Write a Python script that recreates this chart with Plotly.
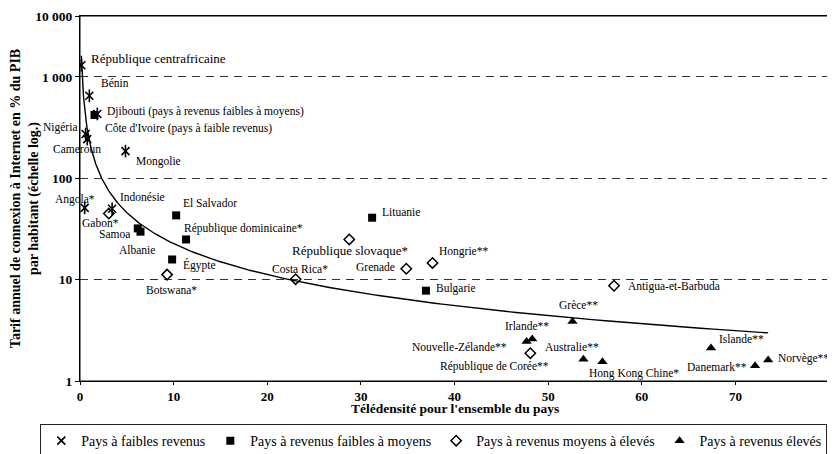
import numpy as np
import plotly.graph_objects as go

# ---------------- data ----------------
low_names = ["République centrafricaine", "Bénin", "Côte d'Ivoire (pays à faible revenus)",
             "Nigéria", "Cameroun", "Mongolie", "Angola*", "Indonésie"]
low_x = [0.15, 1.0, 1.85, 0.6, 0.77, 4.86, 0.5, 3.43]
low_y = [1300, 650, 430, 273, 243, 185, 51, 50]

lowmid_names = ["Djibouti (pays à revenus faibles à moyens)", "El Salvador", "Samoa", "Albanie",
                "République dominicaine*", "Égypte", "Lituanie", "Bulgarie"]
lowmid_x = [1.55, 10.27, 6.17, 6.46, 11.33, 9.84, 31.2, 36.95]
lowmid_y = [421, 43, 32, 29.7, 24.9, 15.8, 40.8, 7.78]

midhigh_names = ["Gabon*", "Botswana*", "Costa Rica*", "République slovaque*", "Grenade",
                 "Hongrie**", "République de Corée**", "Antigua-et-Barbuda"]
midhigh_x = [3.08, 9.3, 23.03, 28.76, 34.85, 37.65, 48.1, 57.04]
midhigh_y = [44.8, 11.2, 10.1, 24.9, 12.8, 14.6, 1.88, 8.7]

high_names = ["Irlande**", "Nouvelle-Zélande**", "Grèce**", "Australie**", "Hong Kong Chine*",
              "Islande**", "Danemark**", "Norvège**"]
high_x = [48.3, 47.7, 52.6, 53.77, 55.8, 67.4, 72.1, 73.5]
high_y = [2.59, 2.45, 3.87, 1.64, 1.55, 2.11, 1.41, 1.61]

legend_labels = ["Pays à faibles revenus", "Pays à revenus faibles à moyens",
                 "Pays à revenus moyens à élevés", "Pays à revenus élevés"]

x_ticks = [0, 10, 20, 30, 40, 50, 60, 70, 80]
y_tick_labels = ["1", "10", "100", "1 000", "10 000"]

x_title = "Télédensité pour l'ensemble du pays"
y_title = "Tarif annuel de connexion à Internet en % du PIB<br>par habitant (échelle log.)"

# ---------------- label placement (style: pixel offsets, anchor) ----------------
label_pos = {
    "République centrafricaine": (8, 7, "left"),
    "Bénin": (10, 13, "left"),
    "Djibouti (pays à revenus faibles à moyens)": (10, 3, "left"),
    "Côte d'Ivoire (pays à faible revenus)": (6, -14, "left"),
    "Nigéria": (-7, 7, "right"),
    "Cameroun": (-10, -10, "center"),
    "Mongolie": (8, -10, "left"),
    "Angola*": (-10, 8, "center"),
    "Indonésie": (6, 12, "left"),
    "Gabon*": (-8, -9, "center"),
    "Samoa": (-6, -6, "right"),
    "Albanie": (-3, -18, "center"),
    "El Salvador": (5, 12, "left"),
    "République dominicaine*": (-4, 11, "left"),
    "Égypte": (9, -6, "left"),
    "Botswana*": (4, -15, "center"),
    "Costa Rica*": (4, 10, "center"),
    "République slovaque*": (1, -11, "center"),
    "Lituanie": (8, 6, "left"),
    "Grenade": (-9, 2, "right"),
    "Hongrie**": (4, 11, "left"),
    "Bulgarie": (8, 2, "left"),
    "Irlande**": (-5, 13, "center"),
    "Nouvelle-Zélande**": (-18, -5, "right"),
    "République de Corée**": (21, -13, "right"),
    "Grèce**": (6, 16, "center"),
    "Antigua-et-Barbuda": (12, -1, "left"),
    "Australie**": (-11, 12, "center"),
    "Hong Kong Chine*": (-15, -12, "left"),
    "Islande**": (6, 9, "left"),
    "Danemark**": (-6, -1, "right"),
    "Norvège**": (8, 2, "left"),
}
label_size = {"République centrafricaine": 13, "République slovaque*": 13}

FONT = "Times"
BLACK = "#000000"

fig = go.Figure()

# power trend line fitted on all countries (log-log least squares)
all_x = np.array(low_x + lowmid_x + midhigh_x + high_x)
all_y = np.array(low_y + lowmid_y + midhigh_y + high_y)
slope, intercept = np.polyfit(np.log10(all_x), np.log10(all_y), 1)
tx = np.geomspace(all_x.min(), all_x.max(), 300)
ty = 10 ** intercept * tx ** slope
fig.add_trace(go.Scatter(x=tx, y=ty, mode="lines", line=dict(color=BLACK, width=1.4),
                         showlegend=False, hoverinfo="skip"))

# low income: asterisk (x + vertical bar)
fig.add_trace(go.Scatter(x=low_x, y=low_y, mode="markers", name=legend_labels[0], text=low_names,
                         marker=dict(symbol="x-thin-open", size=8, color=BLACK,
                                     line=dict(color=BLACK, width=1.6))))
fig.add_trace(go.Scatter(x=low_x, y=low_y, mode="markers", showlegend=False, text=low_names,
                         marker=dict(symbol="line-ns-open", size=9, color=BLACK,
                                     line=dict(color=BLACK, width=1.6))))
fig.add_trace(go.Scatter(x=lowmid_x, y=lowmid_y, mode="markers", name=legend_labels[1], text=lowmid_names,
                         marker=dict(symbol="square", size=8, color=BLACK)))
fig.add_trace(go.Scatter(x=midhigh_x, y=midhigh_y, mode="markers", name=legend_labels[2], text=midhigh_names,
                         marker=dict(symbol="diamond-open", size=8, color=BLACK,
                                     line=dict(color=BLACK, width=1.5))))
fig.add_trace(go.Scatter(x=high_x, y=high_y, mode="markers", name=legend_labels[3], text=high_names,
                         marker=dict(symbol="triangle-up", size=9, color=BLACK)))

# country labels
for names, xs, ys in [(low_names, low_x, low_y), (lowmid_names, lowmid_x, lowmid_y),
                      (midhigh_names, midhigh_x, midhigh_y), (high_names, high_x, high_y)]:
    for n, xv, yv in zip(names, xs, ys):
        dx, dy, anc = label_pos[n]
        fig.add_annotation(x=xv, y=np.log10(yv), text=n, showarrow=False,
                           xanchor=anc, yanchor="middle", xshift=dx, yshift=dy,
                           font=dict(family=FONT, size=label_size.get(n, 11.5), color=BLACK))

# x axis title (placed close under the tick labels, as in the reference)
fig.add_annotation(x=0.5, y=-0.074, xref="paper", yref="paper", text=x_title, showarrow=False,
                   xanchor="center", yanchor="middle",
                   font=dict(family=FONT, size=13.5, color=BLACK, weight="bold"))

# plot frame
fig.add_shape(type="rect", xref="paper", yref="paper", x0=0, x1=1, y0=0, y1=1,
              line=dict(color=BLACK, width=1), layer="above")

# axis ticks: top of frame is labelled as in the reference
y_top = 10 ** 3.6
y_tickvals = [1, 10, 100, 1000, y_top]

fig.update_xaxes(range=[0, 80], tickvals=x_ticks, showgrid=False, zeroline=False,
                 showline=True, linecolor=BLACK, linewidth=1, mirror=True,
                 ticks="outside", ticklen=3, tickcolor=BLACK,
                 tickfont=dict(family=FONT, size=13, color=BLACK, weight="bold"))
fig.update_yaxes(type="log", range=[0, 3.6], tickvals=y_tickvals, ticktext=y_tick_labels,
                 showgrid=True, gridcolor="#333333", gridwidth=1, griddash="8px,6px",
                 zeroline=False, showline=True, linecolor=BLACK, linewidth=1, mirror=True,
                 ticks="outside", ticklen=4, tickcolor=BLACK,
                 tickfont=dict(family=FONT, size=13.5, color=BLACK, weight="bold"),
                 title=dict(text=y_title, standoff=2,
                            font=dict(family=FONT, size=14, color=BLACK, weight="bold")))

# the page body adds an 8 px offset, so the figure is 8 px smaller than the window
fig.update_layout(
    width=827, height=446,
    margin=dict(l=71.5, r=6, t=8, b=73, autoexpand=False),
    paper_bgcolor="white", plot_bgcolor="white",
    font=dict(family=FONT, color=BLACK),
    showlegend=True,
    legend=dict(orientation="h", x=-0.053, y=-0.118, xanchor="left", yanchor="top",
                bordercolor="#222222", borderwidth=1, bgcolor="white",
                font=dict(family=FONT, size=14, color=BLACK),
                itemsizing="trace"),
)

fig.write_html("out.html")
